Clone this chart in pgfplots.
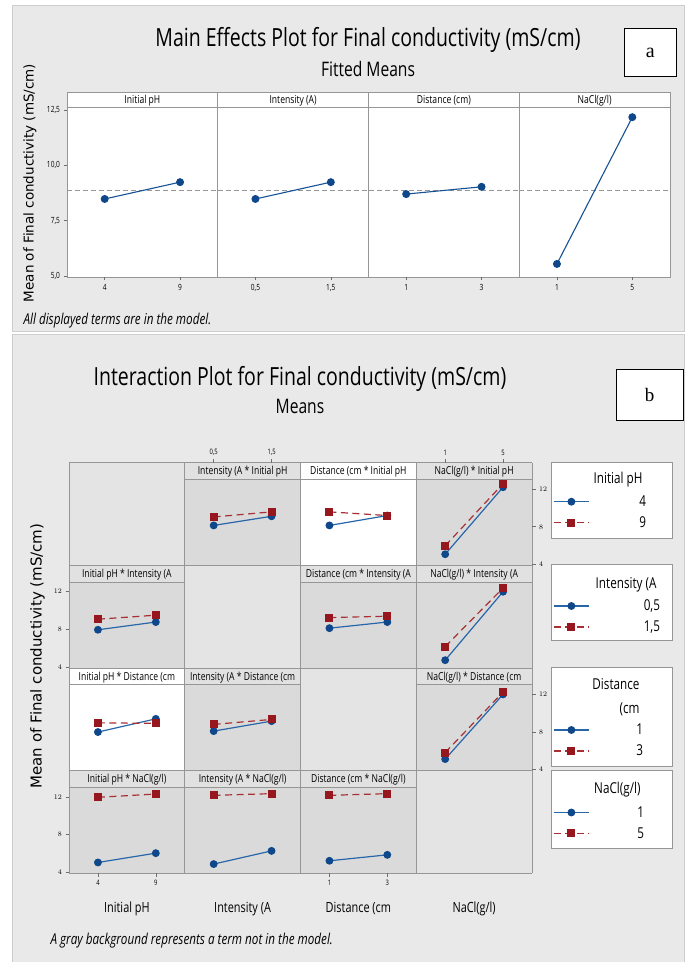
\documentclass[border=0pt]{standalone}
\usepackage{pgfplots}
\pgfplotsset{compat=1.18}
\usepackage{fontspec}
\setmainfont{Open Sans}[FakeStretch=0.78]
\newfontfamily\ylabfont{DejaVu Sans}
\newfontfamily\tagfont{Liberation Serif}

\definecolor{panelbg}{RGB}{233,233,233}
\definecolor{panelrule}{RGB}{205,205,205}
\definecolor{cellgray}{RGB}{218,218,218}
\definecolor{stripgray}{RGB}{225,225,225}
\definecolor{emptycell}{RGB}{228,228,228}
\definecolor{framegray}{RGB}{150,150,150}
\definecolor{tickgray}{RGB}{110,110,110}
\definecolor{mtblue}{RGB}{40,102,170}
\definecolor{mtbluedark}{RGB}{14,72,138}
\definecolor{mtred}{RGB}{168,48,52}
\definecolor{mtreddark}{RGB}{150,24,30}
\definecolor{meanline}{RGB}{150,150,150}

\newcommand{\fs}[1]{\fontsize{#1}{#1}\selectfont}

\tikzset{
  lowlevel/.style={mtblue, line width=1.2pt, mark=*, mark size=3.3pt,
    mark options={solid, fill=mtbluedark, draw=mtbluedark}},
  highlevel/.style={mtred, line width=1.2pt, dash pattern=on 7pt off 4.5pt, mark=square*, mark size=3.4pt,
    mark options={solid, fill=mtreddark, draw=mtreddark}},
  meline/.style={mtbluedark!70!mtblue, line width=1.1pt, mark=*, mark size=3.4pt,
    mark options={solid, fill=mtbluedark, draw=mtbluedark}},
  grandmean/.style={meanline, line width=1.1pt, dash pattern=on 5pt off 3pt},
}

\pgfplotsset{
  legend image code/.code={\draw[mark repeat=2,mark phase=2,#1] plot coordinates {(0pt,0pt) (17.5pt,0pt) (35pt,0pt)};},
  basepanel/.style={scale only axis, clip=false, axis line style={draw=none},
    xmin=-0.5, xmax=1.5, xtick=\empty, ytick=\empty,
    tick align=outside, major tick length=3.5pt,
    tick style={draw=tickgray, line width=0.5pt},
    ticklabel style={font=\fs{7.5}, text=black}},
  mepanel/.style={basepanel, width=150.75pt, height=170pt, ymin=4.95, ymax=12.64,
    xtick={0,1}, xtick pos=left, xticklabel pos=left, ticklabel style={font=\fs{8.5}}},
  % each cell axis spans the whole cell, strip included, so that top ticks sit on the grid edge
  icell/.style={basepanel, width=115.75pt, height=102.65pt, ymin=3.9, ymax=14.8025},
  iticksbottom/.style={xtick={0,1}, xtick pos=left, xticklabel pos=left},
  itickstop/.style={xtick={0,1}, xtick pos=right, xticklabel pos=right},
  iticksleft/.style={ytick={4,8,12}, ytick pos=left, yticklabel pos=left},
  iticksright/.style={ytick={4,8,12}, ytick pos=right, yticklabel pos=right},
  keybox/.style={hide axis, scale only axis, width=1pt, height=1pt,
    xmin=0, xmax=1, ymin=0, ymax=1, anchor=north east,
    legend cell align=right,
    legend style={at={(1,1)}, anchor=north east, draw=none, fill=none,
      inner sep=0pt, outer sep=0pt, row sep=0pt, column sep=0pt, font=\fs{15},
      nodes={inner sep=0pt, outer sep=0pt, minimum height=21pt, scale=1}}},
}

% interaction matrix cells: column left edge, row top edge (measured from the top)
\newcommand{\cellbg}[5]{%
  \fill[#3] (#1,{962-#2-102.65}) rectangle ({#1+115.75},{962-#2});
  \fill[#4] (#1,{962-#2-16.5}) rectangle ({#1+115.75},{962-#2});
  \draw[framegray, line width=0.6pt] (#1,{962-#2-16.5}) -- ({#1+115.75},{962-#2-16.5});
  \node[font=\fs{11}, anchor=base] at ({#1+57.875},{962-#2-12.3}) {#5};
}
\newcommand{\cellempty}[2]{%
  \fill[emptycell] (#1,{962-#2-102.65}) rectangle ({#1+115.75},{962-#2});
}
\newcommand{\celldata}[5]{%
  \begin{axis}[icell, at={(#1pt,\fpeval{962-#2-102.65}pt)}, anchor=south west, #3]
    \addplot[lowlevel] coordinates {#4};
    \addplot[highlevel] coordinates {#5};
  \end{axis}
}

\begin{document}
\begin{tikzpicture}[x=1pt, y=1pt]
\useasboundingbox (0,0) rectangle (688,962);
\fill[white] (0,0) rectangle (688,962);

% ---------------- panel a: main effects ----------------
\filldraw[fill=panelbg, draw=panelrule] (12,{962-5}) rectangle (684,{962-331});
\node[font=\fs{25}, anchor=base] at (368,{962-47}) {Main Effects Plot for Final conductivity (mS/cm)};
\node[font=\fs{20}, anchor=base] at (368,{962-77}) {Fitted Means};
\filldraw[fill=white, draw=black, line width=1pt] (624.5,{962-29}) rectangle (676,{962-77});
\node[font=\tagfont\fs{20}] at (650.25,{962-53}) {a};

\fill[white] (67,{962-277}) rectangle (670,{962-92.7});
\foreach \k in {0,1,2,3} {
  \node[font=\fs{11}, anchor=base] at ({67+150.75*\k+75.375},{962-104}) {\ifcase\k Initial pH\or Intensity (A)\or Distance (cm)\or NaCl(g/l)\fi};
}
\draw[framegray, line width=0.6pt] (67,{962-107}) -- (670,{962-107});
\foreach \k in {1,2,3} \draw[framegray, line width=0.6pt] ({67+150.75*\k},{962-92.7}) -- ({67+150.75*\k},{962-277});
\draw[framegray, line width=0.6pt] (67,{962-277}) rectangle (670,{962-92.7});

\begin{axis}[mepanel, at={(67pt,685pt)}, anchor=south west,
  xticklabels={4,9}, ytick={5,7.5,10,12.5}, yticklabels={{5,0},{7,5},{10,0},{12,5}},
  ytick pos=left, yticklabel pos=left]
  \addplot[grandmean] coordinates {(-0.5,8.86) (1.5,8.86)};
  \addplot[meline] coordinates {(0,8.48) (1,9.24)};
\end{axis}
\begin{axis}[mepanel, at={(217.75pt,685pt)}, anchor=south west, xticklabels={{0,5},{1,5}}]
  \addplot[grandmean] coordinates {(-0.5,8.86) (1.5,8.86)};
  \addplot[meline] coordinates {(0,8.48) (1,9.24)};
\end{axis}
\begin{axis}[mepanel, at={(368.5pt,685pt)}, anchor=south west, xticklabels={1,3}]
  \addplot[grandmean] coordinates {(-0.5,8.86) (1.5,8.86)};
  \addplot[meline] coordinates {(0,8.70) (1,9.03)};
\end{axis}
\begin{axis}[mepanel, at={(519.25pt,685pt)}, anchor=south west, xticklabels={1,5}]
  \addplot[grandmean] coordinates {(-0.5,8.86) (1.5,8.86)};
  \addplot[meline] coordinates {(0,5.54) (1,12.18)};
\end{axis}

\node[font=\ylabfont\fs{13.5}, rotate=90] at (30,{962-183}) {Mean of Final conductivity (mS/cm)};
\node[font=\itshape\fs{15}, anchor=base west] at (20,{962-325}) {All displayed terms are in the model.};

% ---------------- panel b: interaction matrix ----------------
\filldraw[fill=panelbg, draw=panelrule] (12,{962-334}) rectangle (684,-1);
\node[font=\fs{25}, anchor=base] at (300,{962-386}) {Interaction Plot for Final conductivity (mS/cm)};
\node[font=\fs{20}, anchor=base] at (300,{962-414}) {Means};
\filldraw[fill=white, draw=black, line width=1pt] (616,{962-370}) rectangle (683,{962-421});
\node[font=\tagfont\fs{19}] at (649.5,{962-395}) {b};

% row 1
\cellempty{69}{462.7}
\cellbg{184.75}{462.7}{cellgray}{stripgray}{Intensity (A * Initial pH}
\cellbg{300.5}{462.7}{white}{white}{Distance (cm * Initial pH}
\cellbg{416.25}{462.7}{cellgray}{stripgray}{NaCl(g/l) * Initial pH}
% row 2
\cellbg{69}{565.35}{cellgray}{stripgray}{Initial pH * Intensity (A}
\cellempty{184.75}{565.35}
\cellbg{300.5}{565.35}{cellgray}{stripgray}{Distance (cm * Intensity (A}
\cellbg{416.25}{565.35}{cellgray}{stripgray}{NaCl(g/l) * Intensity (A}
% row 3
\cellbg{69}{668}{white}{white}{Initial pH * Distance (cm}
\cellbg{184.75}{668}{cellgray}{stripgray}{Intensity (A * Distance (cm}
\cellempty{300.5}{668}
\cellbg{416.25}{668}{cellgray}{stripgray}{NaCl(g/l) * Distance (cm}
% row 4
\cellbg{69}{770.65}{cellgray}{stripgray}{Initial pH * NaCl(g/l)}
\cellbg{184.75}{770.65}{cellgray}{stripgray}{Intensity (A * NaCl(g/l)}
\cellbg{300.5}{770.65}{cellgray}{stripgray}{Distance (cm * NaCl(g/l)}
\cellempty{416.25}{770.65}

% grid
\foreach \xx in {69,184.75,300.5,416.25,532} \draw[framegray, line width=0.6pt] (\xx,{962-462.7}) -- (\xx,{962-873.3});
\foreach \yy in {462.7,565.35,668,770.65,873.3} \draw[framegray, line width=0.6pt] (69,{962-\yy}) -- (532,{962-\yy});

% row 1 data (lines: Initial pH 4 / 9)
\celldata{184.75}{462.7}{itickstop, xticklabels={{0,5},{1,5}}}{(0,8.14) (1,9.11)}{(0,9.04) (1,9.58)}
\celldata{300.5}{462.7}{}{(0,8.14) (1,9.19)}{(0,9.58) (1,9.19)}
\celldata{416.25}{462.7}{itickstop, xticklabels={1,5}, iticksright}{(0,5.08) (1,12.20)}{(0,5.98) (1,12.57)}
% row 2 data (lines: Intensity 0,5 / 1,5)
\celldata{69}{565.35}{iticksleft}{(0,7.96) (1,8.78)}{(0,9.08) (1,9.51)}
\celldata{300.5}{565.35}{}{(0,8.13) (1,8.78)}{(0,9.26) (1,9.40)}
\celldata{416.25}{565.35}{}{(0,4.73) (1,12.00)}{(0,6.17) (1,12.40)}
% row 3 data (lines: Distance 1 / 3)
\celldata{69}{668}{}{(0,8.00) (1,9.40)}{(0,8.98) (1,8.92)}
\celldata{184.75}{668}{}{(0,8.10) (1,9.16)}{(0,8.81) (1,9.34)}
\celldata{416.25}{668}{iticksright}{(0,5.13) (1,12.00)}{(0,5.82) (1,12.24)}
% row 4 data (lines: NaCl 1 / 5)
\celldata{69}{770.65}{iticksleft, iticksbottom, xticklabels={4,9}}{(0,5.05) (1,6.04)}{(0,11.97) (1,12.32)}
\celldata{184.75}{770.65}{}{(0,4.88) (1,6.28)}{(0,12.18) (1,12.36)}
\celldata{300.5}{770.65}{iticksbottom, xticklabels={1,3}}{(0,5.23) (1,5.86)}{(0,12.18) (1,12.36)}

% column names
\node[font=\fs{14}, anchor=base] at (126.9,{962-913}) {Initial pH};
\node[font=\fs{14}, anchor=base] at (242.6,{962-913}) {Intensity (A};
\node[font=\fs{14}, anchor=base] at (358.4,{962-913}) {Distance (cm};
\node[font=\fs{14}, anchor=base] at (474.1,{962-913}) {NaCl(g/l)};

\node[font=\ylabfont\fs{15}, rotate=90] at (37.5,{962-656}) {Mean of Final conductivity (mS/cm)};
\node[font=\itshape\fs{15}, anchor=base west] at (47,{962-945}) {A gray background represents a term not in the model.};

% legend boxes
\filldraw[fill=white, draw=framegray, line width=0.6pt] (551,{962-462.7}) rectangle (672,{962-538});
\filldraw[fill=white, draw=framegray, line width=0.6pt] (551,{962-564.7}) rectangle (672,{962-640.7});
\filldraw[fill=white, draw=framegray, line width=0.6pt] (551,{962-667.7}) rectangle (672,{962-766});
\filldraw[fill=white, draw=framegray, line width=0.6pt] (551,{962-770}) rectangle (672,{962-848});

\node[font=\fs{15}, anchor=base east] at (646,{962-483.5}) {Initial pH};
\node[font=\fs{15}, anchor=base east] at (660,{962-588.5}) {Intensity (A};
\node[font=\fs{15}, anchor=base east] at (643,{962-689.5}) {Distance};
\node[font=\fs{15}, anchor=base east] at (643,{962-714}) {(cm};
\node[font=\fs{15}, anchor=base east] at (644,{962-793.5}) {NaCl(g/l)};

\begin{axis}[keybox, at={(646pt,\fpeval{962-491.2}pt)}]
  \addlegendimage{lowlevel}\addlegendentry{\makebox[56.5pt][r]{4}}
  \addlegendimage{highlevel}\addlegendentry{\makebox[56.5pt][r]{9}}
\end{axis}
\begin{axis}[keybox, at={(660pt,\fpeval{962-595.5}pt)}]
  \addlegendimage{lowlevel}\addlegendentry{\makebox[70.5pt][r]{0,5}}
  \addlegendimage{highlevel}\addlegendentry{\makebox[70.5pt][r]{1,5}}
\end{axis}
\begin{axis}[keybox, at={(643pt,\fpeval{962-719.5}pt)}]
  \addlegendimage{lowlevel}\addlegendentry{\makebox[53.5pt][r]{1}}
  \addlegendimage{highlevel}\addlegendentry{\makebox[53.5pt][r]{3}}
\end{axis}
\begin{axis}[keybox, at={(644pt,\fpeval{962-802}pt)}]
  \addlegendimage{lowlevel}\addlegendentry{\makebox[54.5pt][r]{1}}
  \addlegendimage{highlevel}\addlegendentry{\makebox[54.5pt][r]{5}}
\end{axis}
\end{tikzpicture}
\end{document}
